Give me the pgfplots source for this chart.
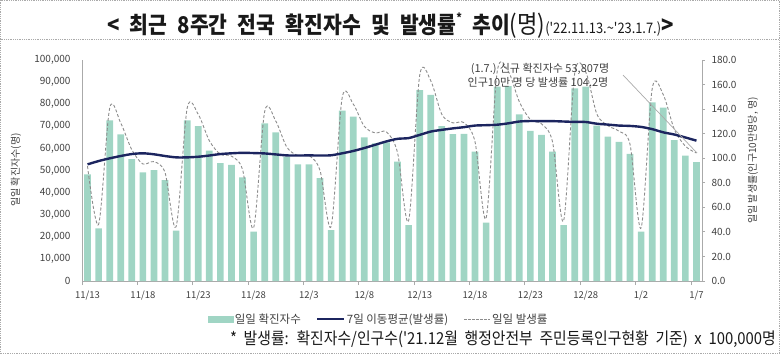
\documentclass[border=0pt]{standalone}
\usepackage{pgfplots}
\pgfplotsset{compat=1.18}
\usepackage{pgfplotstable}
\usepackage{fontspec}
\setmainfont{Noto Sans CJK KR}
\newfontfamily\titlefont[FakeStretch=0.887, WordSpace=2.2]{Noto Sans CJK KR}
\newfontfamily\notefont[FakeStretch=0.9, WordSpace=2]{Noto Sans CJK KR}
\definecolor{barcol}{RGB}{160,213,196}
\definecolor{navyline}{RGB}{28,37,95}
\definecolor{dashgray}{RGB}{140,140,140}
\definecolor{txt}{RGB}{64,64,64}
\definecolor{axgray}{RGB}{170,170,170}

\pgfplotstableread{
i cases inc avg
0 48300 93.5 95.0
1 23800 46.1 97.7
2 72700 140.8 99.9
3 66400 128.6 101.8
4 55200 106.9 103.4
5 49200 95.3 104.0
6 50200 97.2 103.2
7 45600 88.3 101.8
8 22800 44.2 100.7
9 72700 140.8 100.7
10 70100 135.7 101.2
11 59000 114.3 102.2
12 53300 103.2 103.4
13 52500 101.7 104.0
14 46900 90.8 104.4
15 22300 43.2 104.2
16 71300 138.1 103.9
17 67300 130.3 103.1
18 56300 109.0 102.3
19 52800 102.2 102.2
20 52800 102.2 102.3
21 46500 90.0 102.2
22 23000 44.5 102.4
23 77100 149.3 104.0
24 74400 144.1 105.9
25 65000 125.9 108.3
26 62300 120.6 111.0
27 62700 121.4 113.7
28 54000 104.6 115.8
29 25300 49.0 116.4
30 86400 167.3 119.0
31 84200 163.1 121.7
32 70100 135.7 123.1
33 66500 128.8 124.3
34 66600 129.0 125.3
35 58500 113.3 126.6
36 26400 51.1 126.9
37 88000 170.4 127.3
38 88200 170.8 128.4
39 75400 146.0 129.9
40 67900 131.5 130.3
41 66100 128.0 130.2
42 58500 113.3 130.2
43 25300 49.0 129.9
44 87200 168.9 129.6
45 87900 170.2 129.5
46 70300 136.1 128.1
47 65300 126.5 127.4
48 63000 122.0 126.6
49 57500 111.3 126.3
50 22300 43.2 125.5
51 80800 156.5 123.7
52 78400 151.8 121.1
53 63800 123.5 119.3
54 56700 109.8 116.9
55 53807 104.2 114.3
}\data

\begin{document}
\begin{tikzpicture}[x=1pt,y=1pt]
\useasboundingbox (0pt,0pt) rectangle (780pt,354pt);
\draw[axgray, densely dotted, line width=0.8pt] (0.5pt,0.5pt) rectangle (779.5pt,353.5pt);
\draw[axgray, densely dotted, line width=0.8pt] (0.5pt,315pt) -- (779.5pt,315pt);

% title
\node[anchor=base west, inner sep=0pt, text=black!90] at (107pt,320pt)
 {\titlefont\fontsize{23}{23}\selectfont\bfseries <\ 최근 8주간 전국 확진자수 및 발생률\raisebox{0.5em}{\fontsize{12}{12}\selectfont *} 추이\mdseries\fontsize{25}{25}\selectfont(명)\fontsize{14.5}{14.5}\selectfont('22.11.13.\textasciitilde'23.1.7.)\fontsize{23}{23}\selectfont\bfseries>};

\begin{axis}[
  at={(82pt,73pt)}, anchor=south west,
  width=620pt, height=221pt, scale only axis,
  xmin=-0.5, xmax=55.5, ymin=0, ymax=100000,
  axis x line*=bottom, axis y line*=left,
  axis line style={draw=axgray, line width=0.8pt},
  /pgf/number format/assume math mode=true,
  ytick={0,10000,...,100000},
  scaled y ticks=false,
  yticklabel style={/pgf/number format/fixed, /pgf/number format/1000 sep={,}, text=txt, font=\fontsize{10}{10}\selectfont, xshift=-4pt},
  ytick style={draw=none},
  xtick={-0.5,4.5,...,54.5},
  xticklabels={11/13,11/18,11/23,11/28,12/3,12/8,12/13,12/18,12/23,12/28,1/2,1/7},
  xticklabel style={text=txt, font=\fontsize{9.5}{10}\selectfont, xshift=5.535pt, yshift=-2pt},
  tick align=outside, major tick length=4pt,
  xtick style={draw=axgray, line width=0.8pt},
]
\addplot[ybar, bar width=6.7pt, fill=barcol, draw=none] table[x=i,y=cases]{\data};
\end{axis}

\begin{axis}[
  at={(82pt,73pt)}, anchor=south west,
  width=620pt, height=221pt, scale only axis,
  xmin=-0.5, xmax=55.5, ymin=0, ymax=180,
  axis y line*=right, axis x line=none,
  axis line style={draw=axgray, line width=0.8pt},
  /pgf/number format/assume math mode=true,
  ytick={0,20,...,180},
  yticklabel style={/pgf/number format/fixed, /pgf/number format/fixed zerofill, /pgf/number format/precision=1, text=txt, font=\fontsize{10}{10}\selectfont, xshift=3pt},
  tick align=outside, major tick length=3pt,
  ytick style={draw=axgray, line width=0.8pt},
  legend style={at={(0.4782,-0.172)}, anchor=center, draw=none, fill=none,
    font=\fontsize{11.5}{12}\selectfont, text=txt, legend columns=3,
    /tikz/every even column/.append style={column sep=14pt},
    nodes={inner sep=1.5pt}},
  legend cell align=left,
]
\addlegendimage{legend image code/.code={\fill[barcol] (0pt,-3pt) rectangle (25pt,3pt);}}
\addlegendentry{일일 확진자수}
\addlegendimage{legend image code/.code={\draw[navyline, line width=2pt] (0pt,0pt) -- (27pt,0pt);}}
\addlegendentry{7일 이동평균(발생률)}
\addlegendimage{legend image code/.code={\draw[dashgray, line width=0.8pt, dash pattern=on 2.5pt off 1.5pt] (0pt,0pt) -- (26pt,0pt);}}
\addlegendentry{일일 발생률}
\addplot[forget plot, dashgray, line width=0.9pt, dash pattern=on 3pt off 2pt, smooth, tension=0.5] table[x=i,y=inc]{\data};
\addplot[forget plot, navyline, line width=2.4pt, smooth] table[x=i,y=avg]{\data};
\end{axis}

% annotation
\node[anchor=center, text=txt, font=\fontsize{11}{12}\selectfont, inner sep=0pt] at (540pt,285pt) {(1.7.) 신규 확진자수 53,807명};
\node[anchor=center, text=txt, font=\fontsize{11}{12}\selectfont, inner sep=0pt] at (538pt,272pt) {인구10만 명 당 발생률 104.2명};
\draw[axgray, line width=0.7pt] (623pt,279pt) -- (697pt,201pt);

% axis titles
\node[rotate=90, text=txt, font=\fontsize{10}{11}\selectfont, inner sep=0pt] at (16pt,184pt) {일일 확진자수(명)};
\node[rotate=90, text=txt, font=\fontsize{10}{11}\selectfont, inner sep=0pt] at (753pt,193.5pt) {일일 발생률(인구10만명당, 명)};

% footnote
\node[anchor=base east, inner sep=0pt, text=black!90] at (776pt,10pt)
 {\notefont\fontsize{16.5}{17}\selectfont * 발생률: 확진자수/인구수('21.12월 행정안전부 주민등록인구현황 기준) x 100,000명};
\end{tikzpicture}
\end{document}
